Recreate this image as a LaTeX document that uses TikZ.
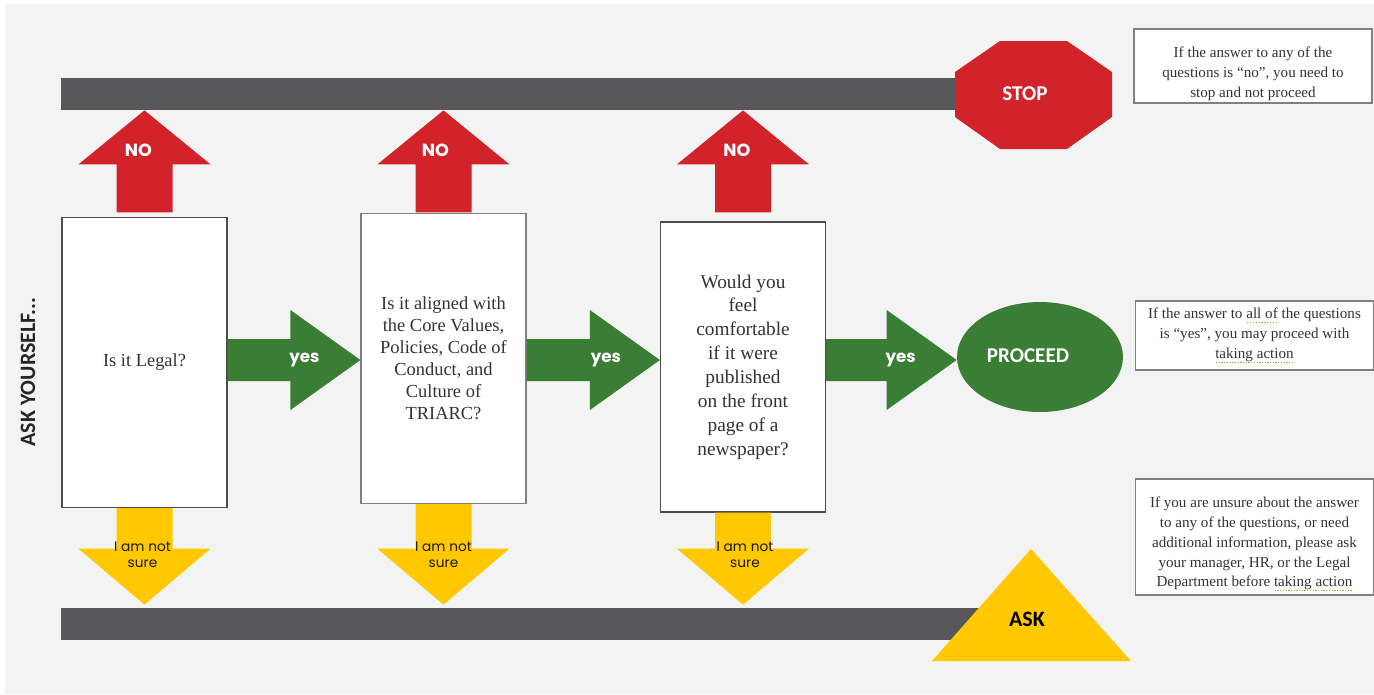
\documentclass[tikz,border=0pt]{standalone}
\usepackage{fontspec}
\setmainfont{Liberation Serif}
\newfontfamily\signfont{Carlito}
\newfontfamily\gothfont{Poppins}
\usepackage{xcolor}
\usetikzlibrary{arrows.meta,positioning,calc,shapes.geometric,fit}
\definecolor{bggray}{HTML}{F3F3F3}
\definecolor{bargray}{HTML}{575759}
\definecolor{nored}{HTML}{D2232A}
\definecolor{yesgreen}{HTML}{3A7D35}
\definecolor{sureyellow}{HTML}{FFC800}
\definecolor{inkgray}{HTML}{333333}
\definecolor{gramdots}{HTML}{C8963C}
\newlength\gramwd
\newcommand\gramline[1]{\settowidth{\gramwd}{#1}\rlap{#1}\raisebox{-2.4pt}{\textcolor{gramdots}{\hbox to\gramwd{\xleaders\hbox to 1.5pt{\hss\rule{0.75pt}{0.6pt}\hss}\hfill}}}}

\begin{document}
\begin{tikzpicture}[x=0.02cm,y=-0.02cm,
  bar/.style={fill=bargray,inner sep=0pt},
  qbox/.style={draw=black!70,line width=.7pt,fill=white,minimum width=3.3cm,minimum height=5.8cm,inner sep=0pt,align=center,text=inkgray,font=\fontsize{10.5}{12.5}\selectfont},
  notebox/.style={draw=black!50,line width=.7pt,fill=white,minimum width=4.76cm,inner sep=0pt,align=center,text=inkgray,font=\fontsize{8.6}{11.3}\selectfont},
  noarrow/.style={fill=nored},
  yesarrow/.style={fill=yesgreen},
  surearrow/.style={fill=sureyellow},
  noword/.style={text=white,font=\gothfont\bfseries\fontsize{10}{12}\selectfont},
  yesword/.style={text=white,font=\gothfont\bfseries\fontsize{9.5}{11}\selectfont},
  sureword/.style={text=black!90,align=center,font=\gothfont\fontsize{7.8}{9}\selectfont},
  signword/.style={font=\signfont\bfseries\fontsize{12}{14}\selectfont}]
\useasboundingbox (0,0) rectangle (1374,694);
\fill[bggray] (5,4) rectangle (1374,694);
\coordinate (midline) at (0,360);
\node[bar,fit={(61,78) (960,110)}] (topbar) {};
\node[bar,fit={(61,608) (1000,640)}] (botbar) {};
\coordinate (stopc) at (1033,95);
\fill[nored] (stopc) ++(-33,-54) -- ++(67,0) -- ++(45,31) -- ++(0,45) -- ++(-45,32) -- ++(-67,0) -- ++(-45,-32) -- ++(0,-45) -- cycle;
\node[signword,text=white] (stop) at (1025,94) {STOP};
\fill[sureyellow] (1031,549) -- (1131,661) -- (932,661) -- cycle;
\node[signword,text=black,font=\signfont\bfseries\fontsize{12.5}{14}\selectfont] (ask) at (1027,619) {ASK};
\node[ellipse,fill=yesgreen,minimum width=3.32cm,minimum height=2.2cm,inner sep=0pt] (go) at (1040,357) {};
\node[signword,text=white] (golabel) at (1028,356) {PROCEED};
\node[qbox] (legal) at (144.5,362.5) {Is it Legal?};
\node[qbox,draw=black!50] (aligned) at (443.5,358.5) {Is it aligned with\\the Core Values,\\Policies, Code of\\Conduct, and\\Culture of\\TRIARC?};
\node[qbox,font=\fontsize{11}{13.6}\selectfont] (newspaper) at (743,367) {Would you\\feel\\comfortable\\if it were\\published\\on the front\\page of a\\newspaper?};
\node[rotate=90,text=black!85,font=\signfont\bfseries\fontsize{12.5}{14}\selectfont] (askyou) at (28,372) {ASK YOURSELF...};
\fill[noarrow] (legal.north |- topbar.south) -- ++(66,54) -- ++(-38,0) -- ++(0,48) -- ++(-56,0) -- ++(0,-48) -- ++(-38,0) -- cycle;
\fill[noarrow] (aligned.north |- topbar.south) -- ++(66,54) -- ++(-38,0) -- ++(0,48) -- ++(-56,0) -- ++(0,-48) -- ++(-38,0) -- cycle;
\fill[noarrow] (newspaper.north |- topbar.south) -- ++(66,54) -- ++(-38,0) -- ++(0,48) -- ++(-56,0) -- ++(0,-48) -- ++(-38,0) -- cycle;
\node[noword] (no1) at ($(legal.north |- topbar.south)+(-6,40)$) {NO};
\node[noword] (no2) at ($(aligned.north |- topbar.south)+(-8,40)$) {NO};
\node[noword] (no3) at ($(newspaper.north |- topbar.south)+(-6,40)$) {NO};
\fill[surearrow] ($(legal.south)+(-28,0)$) -- ($(legal.south)+(28,0)$) -- ($(legal.south |- botbar.north)+(28,-59)$) -- ++(38,0) -- ($(legal.south |- botbar.north)+(0,-3)$) -- ++(-66,-56) -- ++(38,0) -- cycle;
\fill[surearrow] ($(aligned.south)+(-28,0)$) -- ($(aligned.south)+(28,0)$) -- ($(aligned.south |- botbar.north)+(28,-59)$) -- ++(38,0) -- ($(aligned.south |- botbar.north)+(0,-3)$) -- ++(-66,-56) -- ++(38,0) -- cycle;
\fill[surearrow] ($(newspaper.south)+(-28,0)$) -- ($(newspaper.south)+(28,0)$) -- ($(newspaper.south |- botbar.north)+(28,-59)$) -- ++(38,0) -- ($(newspaper.south |- botbar.north)+(0,-3)$) -- ++(-66,-56) -- ++(38,0) -- cycle;
\node[sureword] (sure1) at ($(legal.south |- botbar.north)+(-2,-53)$) {I am not\\sure};
\node[sureword] (sure2) at ($(aligned.south |- botbar.north)+(0,-53)$) {I am not\\sure};
\node[sureword] (sure3) at ($(newspaper.south |- botbar.north)+(2,-53)$) {I am not\\sure};
\fill[yesarrow] ($(legal.east |- midline)+(0,-21)$) -- ($(aligned.west |- midline)+(-70,-21)$) -- ++(0,-29) -- (aligned.west |- midline) -- ++(-70,50) -- ++(0,-29) -- ($(legal.east |- midline)+(0,21)$) -- cycle;
\fill[yesarrow] ($(aligned.east |- midline)+(0,-21)$) -- ($(newspaper.west |- midline)+(-70,-21)$) -- ++(0,-29) -- (newspaper.west |- midline) -- ++(-70,50) -- ++(0,-29) -- ($(aligned.east |- midline)+(0,21)$) -- cycle;
\fill[yesarrow] ($(newspaper.east |- midline)+(0,-21)$) -- ($(go.west |- midline)+(-70,-21)$) -- ++(0,-29) -- (go.west |- midline) -- ++(-70,50) -- ++(0,-29) -- ($(newspaper.east |- midline)+(0,21)$) -- cycle;
\node[yesword] (yes1) at ($(aligned.west |- midline)+(-56,0)$) {yes};
\node[yesword] (yes2) at ($(newspaper.west |- midline)+(-54,0)$) {yes};
\node[yesword] (yes3) at ($(go.west |- midline)+(-56,0)$) {yes};
\node[notebox,minimum height=1.48cm] (ifno) at (1253,66) {\rule{0pt}{15pt}If the answer to any of the\\questions is “no”, you need to\\stop and not proceed};
\node[notebox,minimum height=1.38cm] (ifyes) at (1254.5,335.5) {If the answer to \gramline{all of} the questions\\is “yes”, you may proceed with\\\gramline{taking action}};
\node[notebox,minimum height=2.32cm] (ifunsure) at (1254.5,537) {\rule{0pt}{14pt}If you are unsure about the answer\\to any of the questions, or need\\additional information, please ask\\your manager, HR, or the Legal\\Department before \gramline{taking action}};
\end{tikzpicture}
\end{document}
